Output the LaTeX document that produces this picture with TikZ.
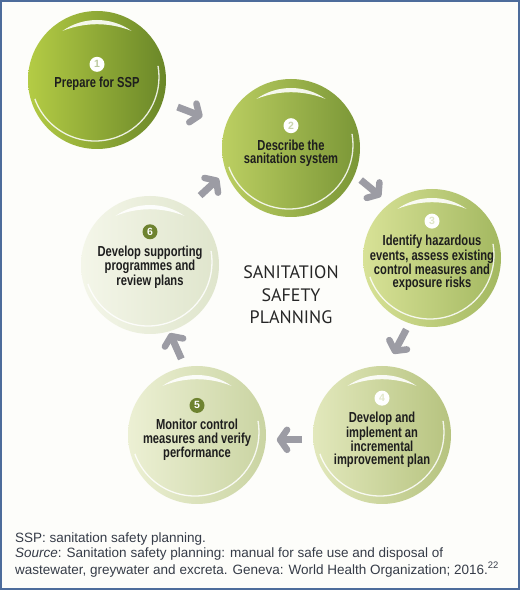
\documentclass[tikz,border=0pt]{standalone}
\usepackage{fontspec}
\setmainfont{Liberation Sans}
\newfontfamily\stepfont[FakeStretch=0.77]{Liberation Sans}
\newfontfamily\titlefont{PT Sans}
\usetikzlibrary{positioning, arrows.meta}
\definecolor{FrameBlue}{HTML}{4D6C9B}
\definecolor{PaperWhite}{HTML}{FDFDFA}
\definecolor{ArrowGrey}{HTML}{9C9CA4}
\definecolor{InkDark}{HTML}{1E1E1E}
\definecolor{TitleInk}{HTML}{262626}
\definecolor{NoteInk}{HTML}{363C48}
\definecolor{StepOlive}{HTML}{6E8330}
\definecolor{OneL}{HTML}{B4CC45}
\definecolor{OneR}{HTML}{6A8728}
\definecolor{TwoL}{HTML}{BCCF62}
\definecolor{TwoR}{HTML}{7A9636}
\definecolor{ThreeL}{HTML}{D8E297}
\definecolor{ThreeR}{HTML}{A3B860}
\definecolor{FourL}{HTML}{E2E8BC}
\definecolor{FourR}{HTML}{B6C37F}
\definecolor{FiveL}{HTML}{ECF0D4}
\definecolor{FiveR}{HTML}{CAD4A2}
\definecolor{SixL}{HTML}{F4F6E9}
\definecolor{SixR}{HTML}{DFE5CC}

\begin{document}
\begin{tikzpicture}[
    x=1pt, y=1pt,
    stepcircle/.style={circle, minimum size=138pt, inner sep=0pt, outer sep=0pt},
    steptext/.style={align=center, inner sep=0pt, text=InkDark,
                     font=\stepfont\bfseries\fontsize{14.5}{13.3}\selectfont},
    numdisc/.style={circle, minimum size=15pt, inner sep=0pt, fill=white,
                    font=\bfseries\fontsize{10.5}{10.5}\selectfont},
    conn/.style={draw=ArrowGrey, line width=7pt,
                 -{Straight Barb[length=7pt, width=20pt, line width=6.5pt, round]}},
    ringline/.style={white, line width=1.3pt, opacity=0.85},
    shine/.style={white, opacity=0.9},
    note/.style={anchor=base west, inner sep=0pt, text=NoteInk,
                 font=\fontsize{13.5}{16}\selectfont}
]
  \useasboundingbox (0,0) rectangle (520,590);
  \fill[PaperWhite] (0,0) rectangle (520,590);
  \draw[FrameBlue, line width=2pt] (1,1) rectangle (519,589);

  % Step circles
  \node[stepcircle, left color=OneL, right color=OneR] (c1) at (97,510) {};
  \node[stepcircle, left color=TwoL, right color=TwoR] (c2) at (291,442) {};
  \node[stepcircle, left color=ThreeL, right color=ThreeR] (c3) at (432,332) {};
  \node[stepcircle, left color=FourL, right color=FourR] (c4) at (382,155) {};
  \node[stepcircle, left color=FiveL, right color=FiveR] (c5) at (197,155) {};
  \node[stepcircle, left color=SixL, right color=SixR] (c6) at (150,325) {};

  % Rings and top shine
  \foreach \i in {1,...,6}{
    \draw[ringline] ([shift={(-2pt,3pt)}]c\i.center) ++(200:64pt)
      arc[start angle=200, end angle=370, radius=64pt];
    \fill[shine] ([shift={(55:60pt)}]c\i.center)
      arc[start angle=55, end angle=125, radius=60pt]
      .. controls ([shift={(-12pt,58pt)}]c\i.center) and ([shift={(12pt,58pt)}]c\i.center)
      .. ([shift={(55:60pt)}]c\i.center);
  }

  % Step texts
  \node[steptext] (t1) at ([yshift=-4pt]c1.center) {Prepare for SSP};
  \node[steptext] (t2) at ([yshift=-5pt]c2.center) {Describe the\\sanitation system};
  \node[steptext] (t3) at ([yshift=-5pt]c3.center) {Identify hazardous\\events, assess existing\\control measures and\\exposure risks};
  \node[steptext] (t4) at ([yshift=-5pt]c4.center) {Develop and\\implement an\\incremental\\improvement plan};
  \node[steptext] (t5) at ([yshift=-5pt]c5.center) {Monitor control\\measures and verify\\performance};
  \node[steptext] (t6) at ([yshift=-2pt]c6.center) {Develop supporting\\programmes and\\review plans};

  % Step numbers
  \node[numdisc, text=OneR!45!white, above=5pt of t1] (n1) {1};
  \node[numdisc, text=TwoR!40!white, above=6pt of t2] (n2) {2};
  \node[numdisc, text=ThreeR!35!white, above=6pt of t3] (n3) {3};
  \node[numdisc, text=FourR!40!white, above=6pt of t4] (n4) {4};
  \node[numdisc, fill=StepOlive, text=white, above=6pt of t5] (n5) {5};
  \node[numdisc, fill=StepOlive, text=white, above=6pt of t6] (n6) {6};

  % Cycle arrows
  \draw[conn, shorten <=16pt, shorten >=25pt] (c1.-18) -- (c2.161);
  \draw[conn, shorten <=8pt, shorten >=11pt] (c2.-23) -- (c3.128);
  \draw[conn, shorten <=7pt, shorten >=14pt] (c3.251) -- (c4.86);
  \draw[conn, shorten <=11pt, shorten >=11pt] (c4.184) -- (c5.-4);
  \draw[conn, shorten <=9pt, shorten >=2pt] (c5.100) -- (c6.286);
  \draw[conn, shorten <=17pt, shorten >=10pt] (c6.57) -- (c2.200);

  % Centre title
  \node[font=\titlefont\fontsize{18}{22.5}\selectfont, align=center, text=TitleInk]
    (title) at (291,295) {SANITATION\\SAFETY\\PLANNING};

  % Notes
  \node[note] (cap1) at (15,48) {SSP: sanitation safety planning.};
  \node[note] (cap2) at (15,32) {\textit{Source}: Sanitation safety planning: manual for safe use and disposal of};
  \node[note] (cap3) at (15,16) {wastewater, greywater and excreta. Geneva: World Health Organization; 2016.\textsuperscript{22}};
\end{tikzpicture}
\end{document}
